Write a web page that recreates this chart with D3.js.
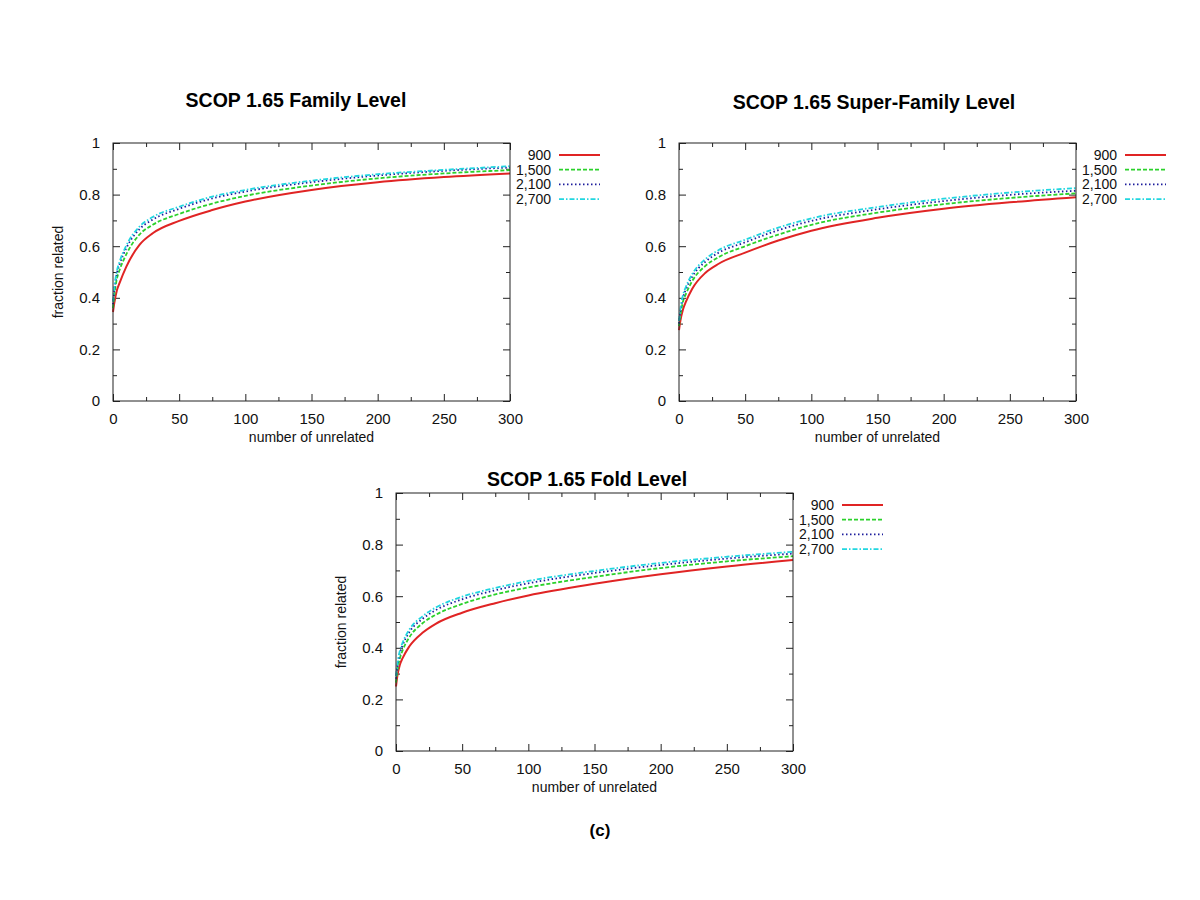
<!DOCTYPE html>
<html>
<head>
<meta charset="utf-8">
<title>SCOP 1.65</title>
<style>
  body { margin: 0; background: #fff; }
  svg { display: block; font-family: "Liberation Sans", Arial, Helvetica, sans-serif; }
  .title { font-size: 19.5px; font-weight: bold; }
  .lab { font-size: 14px; fill: #111; }
</style>
</head>
<body>
<div id="chart"></div>
<script src="https://d3js.org/d3.v7.min.js"></script>
<script>
// number of unrelated (common x for all curves)
var xs = [0, 1, 3, 5, 10, 20, 30, 50, 75, 100, 150, 200, 250, 300];
var seriesNames = ["900", "1,500", "2,100", "2,700"];

// Family level
var family900  = [0.345, 0.38, 0.43, 0.458, 0.52, 0.605, 0.65, 0.698, 0.74, 0.773, 0.818, 0.848, 0.868, 0.882];
var family1500 = [0.36, 0.41, 0.475, 0.508, 0.568, 0.645, 0.683, 0.725, 0.765, 0.795, 0.835, 0.863, 0.882, 0.895];
var family2100 = [0.375, 0.43, 0.495, 0.53, 0.592, 0.666, 0.703, 0.745, 0.785, 0.812, 0.848, 0.874, 0.892, 0.905];
var family2700 = [0.385, 0.44, 0.505, 0.54, 0.602, 0.676, 0.713, 0.753, 0.792, 0.818, 0.854, 0.879, 0.896, 0.91];

// Super-family level
var superfam900  = [0.275, 0.31, 0.355, 0.382, 0.435, 0.497, 0.532, 0.575, 0.622, 0.66, 0.71, 0.745, 0.77, 0.79];
var superfam1500 = [0.29, 0.33, 0.385, 0.412, 0.465, 0.524, 0.558, 0.60, 0.645, 0.683, 0.73, 0.763, 0.787, 0.805];
var superfam2100 = [0.30, 0.345, 0.40, 0.43, 0.482, 0.54, 0.575, 0.615, 0.662, 0.698, 0.743, 0.775, 0.799, 0.815];
var superfam2700 = [0.31, 0.355, 0.41, 0.44, 0.492, 0.55, 0.585, 0.625, 0.672, 0.708, 0.752, 0.784, 0.808, 0.825];

// Fold level
var fold900  = [0.25, 0.29, 0.335, 0.36, 0.405, 0.458, 0.493, 0.536, 0.573, 0.603, 0.648, 0.685, 0.715, 0.74];
var fold1500 = [0.265, 0.31, 0.36, 0.39, 0.44, 0.495, 0.528, 0.57, 0.607, 0.634, 0.675, 0.709, 0.735, 0.755];
var fold2100 = [0.28, 0.325, 0.38, 0.41, 0.46, 0.512, 0.546, 0.588, 0.623, 0.65, 0.69, 0.721, 0.746, 0.765];
var fold2700 = [0.29, 0.335, 0.39, 0.42, 0.47, 0.522, 0.556, 0.598, 0.632, 0.659, 0.698, 0.729, 0.753, 0.772];

var xTicks = [0, 50, 100, 150, 200, 250, 300];
var yTicks = [0, 0.2, 0.4, 0.6, 0.8, 1];

var colors = ["#e02424", "#2bd12b", "#1c1c9c", "#22d6e0"];
var dashes = [null, "4,2", "1.5,2.5", "5,2,1.5,2"];

var panels = [
  { title: "SCOP 1.65 Family Level", left: 113, top: 143, titleX: 296, titleY: 107, ylabel: true,
    data: [family900, family1500, family2100, family2700] },
  { title: "SCOP 1.65 Super-Family Level", left: 679, top: 143, titleX: 874, titleY: 109, ylabel: false,
    data: [superfam900, superfam1500, superfam2100, superfam2700] },
  { title: "SCOP 1.65 Fold Level", left: 396, top: 493, titleX: 587, titleY: 486, ylabel: true,
    data: [fold900, fold1500, fold2100, fold2700] }
];

var W = 397, H = 258;

var svg = d3.select("#chart").append("svg")
  .attr("width", 1200).attr("height", 900);
svg.append("rect").attr("width", 1200).attr("height", 900).attr("fill", "#fff");

var x = d3.scaleLinear().domain([0, 300]).range([0, W]);
var y = d3.scaleLinear().domain([0, 1]).range([H, 0]);

var line = d3.line()
  .x(function(d){ return x(d[0]); })
  .y(function(d){ return y(d[1]); })
  .curve(d3.curveMonotoneX);

panels.forEach(function(p){
  var g = svg.append("g").attr("transform", "translate(" + p.left + "," + p.top + ")");

  // axes with inward ticks, mirrored like gnuplot
  var minorX = d3.range(25, 300, 50), minorY = d3.range(0.1, 1, 0.2);
  function styleAxis(sel){
    sel.select(".domain").remove();
    sel.selectAll(".tick line").attr("stroke", "#222");
  }
  g.append("g").attr("transform", "translate(0," + H + ")")
    .call(d3.axisBottom(x).tickValues(xTicks).tickSizeInner(-7).tickSizeOuter(0).tickPadding(12))
    .call(styleAxis);
  g.append("g").attr("transform", "translate(0," + H + ")")
    .call(d3.axisBottom(x).tickValues(minorX).tickSize(-4).tickFormat(""))
    .call(styleAxis);
  g.append("g")
    .call(d3.axisTop(x).tickValues(xTicks).tickSize(-7).tickFormat(""))
    .call(styleAxis);
  g.append("g")
    .call(d3.axisTop(x).tickValues(minorX).tickSize(-4).tickFormat(""))
    .call(styleAxis);
  g.append("g")
    .call(d3.axisLeft(y).tickValues(yTicks).tickSizeInner(-7).tickSizeOuter(0).tickPadding(13)
      .tickFormat(d3.format("~g")))
    .call(styleAxis);
  g.append("g")
    .call(d3.axisLeft(y).tickValues(minorY).tickSize(-4).tickFormat(""))
    .call(styleAxis);
  g.append("g").attr("transform", "translate(" + W + ",0)")
    .call(d3.axisRight(y).tickValues(yTicks).tickSize(-7).tickFormat(""))
    .call(styleAxis);
  g.append("g").attr("transform", "translate(" + W + ",0)")
    .call(d3.axisRight(y).tickValues(minorY).tickSize(-4).tickFormat(""))
    .call(styleAxis);

  g.selectAll(".tick text").style("font-size", "15px").attr("fill", "#111");

  // curves
  p.data.forEach(function(vals, i){
    var pts = xs.map(function(xv, j){ return [xv, vals[j]]; });
    g.append("path")
      .datum(pts)
      .attr("d", line)
      .attr("fill", "none")
      .attr("stroke", colors[i])
      .attr("stroke-width", i === 0 ? 2 : 1.8)
      .attr("stroke-dasharray", dashes[i]);
  });

  // frame
  g.append("rect").attr("width", W).attr("height", H)
    .attr("fill", "none").attr("stroke", "#222").attr("stroke-width", 1);

  // legend
  seriesNames.forEach(function(name, i){
    var ly = 12 + i * 14.7;
    g.append("text").attr("class", "lab")
      .attr("x", W + 41).attr("y", ly + 5)
      .attr("text-anchor", "end").text(name);
    g.append("line")
      .attr("x1", W + 49).attr("x2", W + 90)
      .attr("y1", ly).attr("y2", ly)
      .attr("stroke", colors[i]).attr("stroke-width", i === 0 ? 2 : 1.8)
      .attr("stroke-dasharray", dashes[i]);
  });

  // labels
  g.append("text").attr("class", "lab")
    .attr("x", W / 2).attr("y", H + 41)
    .attr("text-anchor", "middle").text("number of unrelated");
  if (p.ylabel) {
    g.append("text").attr("class", "lab")
      .attr("transform", "translate(-50," + (H / 2) + ") rotate(-90)")
      .attr("text-anchor", "middle").text("fraction related");
  }
  svg.append("text").attr("class", "title")
    .attr("x", p.titleX).attr("y", p.titleY)
    .attr("text-anchor", "middle").text(p.title);
});

svg.append("text").attr("class", "title")
  .attr("x", 600).attr("y", 836)
  .attr("text-anchor", "middle").style("font-size", "17px").text("(c)");
</script>
</body>
</html>
